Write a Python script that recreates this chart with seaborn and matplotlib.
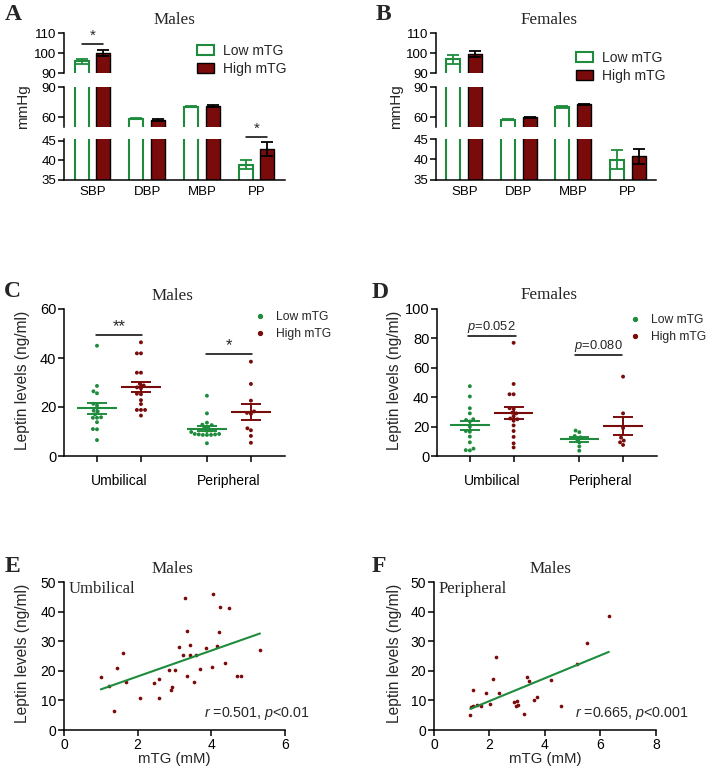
import numpy as np
import pandas as pd
import matplotlib
matplotlib.use('Agg')
import matplotlib.pyplot as plt
import seaborn as sns
from matplotlib.patches import Patch
from matplotlib.lines import Line2D

# ---------------- data ----------------
bp_categories = ['SBP', 'DBP', 'MBP', 'PP']
groups = ['Low mTG', 'High mTG']

males_low_bp = [95.8, 58.3, 70.4, 38.9]
males_low_sem = [1.2, 0.7, 0.7, 1.2]
males_high_bp = [100.0, 57.2, 71.2, 42.9]
males_high_sem = [1.5, 0.8, 0.8, 1.8]

females_low_bp = [96.8, 57.5, 70.4, 39.9]
females_low_sem = [2.1, 0.9, 0.9, 2.3]
females_high_bp = [99.6, 59.6, 72.8, 40.8]
females_high_sem = [1.4, 0.5, 0.5, 1.8]

sites = ['Umbilical', 'Peripheral']

m_umb_low = [45.0, 28.6, 26.4, 25.6, 21.3, 20.6, 18.5, 18.2, 17.0, 15.8, 15.6, 15.6, 13.8, 11.0, 10.9, 6.5]
m_umb_high = [46.4, 41.9, 41.9, 34.0, 34.0, 29.4, 28.8, 28.0, 27.6, 25.4, 25.2, 22.8, 21.2, 18.8, 18.8, 18.8, 16.5]
m_per_low = [24.6, 17.4, 13.6, 12.8, 12.6, 11.8, 11.4, 10.4, 10.2, 9.8, 9.0, 9.0, 8.8, 8.8, 8.6, 8.6, 8.6, 5.2]
m_per_high = [38.5, 29.4, 22.6, 18.2, 17.6, 17.2, 11.3, 10.5, 8.2, 5.4]

f_umb_low = [47.5, 40.5, 32.5, 29.0, 25.0, 24.5, 23.5, 20.0, 17.0, 16.5, 13.2, 9.3, 5.0, 4.0, 3.8]
f_umb_high = [77.0, 49.0, 42.0, 42.0, 32.5, 32.0, 29.5, 29.0, 27.0, 25.5, 25.0, 24.0, 20.8, 17.0, 13.0, 8.6, 5.8]
f_per_low = [17.3, 16.2, 13.6, 12.7, 11.4, 9.2, 6.5, 3.6]
f_per_high = [54.0, 29.0, 19.0, 12.5, 10.5, 9.3, 7.5]

e_mtg = [1.00, 1.23, 1.35, 1.45, 1.61, 1.68, 2.07, 2.44, 2.57, 2.57, 2.85, 2.92, 2.91, 3.01, 3.12,
         3.22, 3.29, 3.33, 3.33, 3.42, 3.42, 3.52, 3.58, 3.68, 3.86, 4.02, 4.05, 4.15, 4.22, 4.24,
         4.38, 4.49, 4.71, 4.81, 5.32]
e_leptin = [17.8, 14.9, 6.3, 20.9, 26.1, 16.2, 10.7, 16.0, 17.1, 10.7, 20.2, 14.6, 13.4, 20.2, 28.2,
            25.2, 44.5, 33.6, 18.4, 28.6, 25.3, 16.2, 25.3, 20.6, 27.7, 21.4, 45.8, 28.4, 33.2, 41.4,
            22.5, 41.2, 18.2, 18.2, 27.1]

f_mtg = [1.31, 1.33, 1.42, 1.41, 1.56, 1.68, 1.87, 2.02, 2.11, 2.25, 2.35, 2.87, 2.96, 3.00, 3.02,
         3.25, 3.35, 3.44, 3.60, 3.70, 4.22, 4.56, 5.15, 5.51, 6.30]
f_leptin = [5.2, 7.9, 8.2, 13.6, 8.5, 8.0, 12.6, 8.7, 17.1, 24.6, 12.4, 9.3, 8.0, 9.7, 8.5,
            5.3, 17.8, 16.7, 10.0, 11.0, 16.9, 8.2, 22.4, 29.3, 38.4]

# ---------------- style ----------------
GREEN = '#1e8c3c'
RED = '#7a0b0b'
sns.set_theme(style='ticks')
plt.rcParams['font.family'] = ['Liberation Sans', 'DejaVu Sans']
plt.rcParams['mathtext.fontset'] = 'custom'
plt.rcParams['mathtext.it'] = 'Liberation Sans:italic'
plt.rcParams['mathtext.rm'] = 'Liberation Sans'
plt.rcParams['axes.linewidth'] = 1.1
plt.rcParams['xtick.major.width'] = 1.1
plt.rcParams['ytick.major.width'] = 1.1
plt.rcParams['xtick.color'] = 'black'
plt.rcParams['ytick.color'] = 'black'
plt.rcParams['axes.edgecolor'] = 'black'
SERIF = ['Liberation Serif', 'DejaVu Serif']

W, H = 708, 770
fig = plt.figure(figsize=(W / 100, H / 100), dpi=100)


def ax_px(left, top, right, bottom):
    return fig.add_axes([left / W, 1 - bottom / H, (right - left) / W, (bottom - top) / H])


def ftext(x, y, s, **kw):
    kw.setdefault('ha', 'center')
    kw.setdefault('va', 'center')
    return fig.text(x / W, 1 - y / H, s, **kw)


# ---------------- bar panels (A, B) ----------------
def bar_panel(left, right, low, low_sem, high, high_sem, bottom_top, sig):
    df = pd.DataFrame({'measure': bp_categories * 2,
                       'group': [groups[0]] * 4 + [groups[1]] * 4,
                       'value': low + high})
    segs = [(33, 73, (90, 110), [90, 100, 110]),
            (87, 127, (50, 90), [60, 90]),
            (139, 180, (35, bottom_top), [35, 40, 45])]
    axes = []
    for k, (top, bot, ylim, ticks) in enumerate(segs):
        ax = ax_px(left, top, right, bot)
        sns.barplot(data=df, x='measure', y='value', hue='group', hue_order=groups,
                    palette={groups[0]: 'white', groups[1]: RED}, gap=0.36, width=0.8,
                    errorbar=None, legend=False, saturation=1, ax=ax)
        c_low, c_high = ax.containers[0], ax.containers[1]
        for p in c_low:
            p.set_facecolor('white'); p.set_edgecolor(GREEN); p.set_linewidth(1.5)
        for p in c_high:
            p.set_facecolor(RED); p.set_edgecolor('black'); p.set_linewidth(1.0)
        xl = [p.get_x() + p.get_width() / 2 for p in c_low]
        xh = [p.get_x() + p.get_width() / 2 for p in c_high]
        ax.errorbar(xl, low, yerr=low_sem, fmt='none', ecolor=GREEN, capsize=4,
                    elinewidth=1.3, capthick=1.3, zorder=5)
        ax.errorbar(xh, high, yerr=high_sem, fmt='none', ecolor='black', capsize=4,
                    elinewidth=1.3, capthick=1.3, zorder=5)
        ax.set_ylim(*ylim)
        ax.set_xlim(-0.52, 3.52)
        ax.set_yticks(ticks)
        ax.tick_params(axis='y', labelsize=9.5, length=4, pad=1.5)
        ax.set_xlabel(''); ax.set_ylabel('')
        sns.despine(ax=ax)
        if k < 2:
            ax.spines['bottom'].set_visible(False)
            ax.set_xticks([])
        else:
            ax.tick_params(axis='x', labelsize=9.5, length=0, pad=4)
        axes.append((ax, xl, xh))
    if sig:
        ax, xl, xh = axes[0]
        ax.plot([xl[0], xh[0]], [104.5, 104.5], color='black', lw=1.1, clip_on=False)
        ax.text((xl[0] + xh[0]) / 2, 105.2, '*', ha='center', va='bottom', fontsize=11)
        ax, xl, xh = axes[2]
        ax.plot([xl[3], xh[3]], [46.1, 46.1], color='black', lw=1.1, clip_on=False)
        ax.text((xl[3] + xh[3]) / 2, 46.3, '*', ha='center', va='bottom', fontsize=11,
                clip_on=False)
    return axes


bar_panel(64, 285, males_low_bp, males_low_sem, males_high_bp, males_high_sem, 45.5, True)
bar_panel(436, 656, females_low_bp, females_low_sem, females_high_bp, females_high_sem, 45, False)

bar_handles = [Patch(facecolor='white', edgecolor=GREEN, linewidth=1.5),
               Patch(facecolor=RED, edgecolor='black', linewidth=1.0)]
for lx, ly in [(197, 44), (576, 51)]:
    fig.legend(bar_handles, groups, loc='upper left', bbox_to_anchor=(lx / W, 1 - ly / H),
               frameon=False, fontsize=10, borderpad=0, handlelength=1.25, handleheight=0.75,
               handletextpad=0.65, labelspacing=0.3, borderaxespad=0)


# ---------------- dot panels (C, D) ----------------
def dot_panel(left, right, data, ylim, yticks, sig, legend_pos):
    ax = ax_px(left, 309, right, 456)
    df = pd.DataFrame(data)
    sns.swarmplot(data=df, x='site', y='leptin', hue='group', order=sites, hue_order=groups,
                  dodge=True, palette={groups[0]: GREEN, groups[1]: RED}, size=2.8,
                  legend=False, ax=ax)
    stats = df.groupby(['site', 'group'])['leptin'].agg(['mean', 'sem'])
    for i, site in enumerate(sites):
        for j, grp in enumerate(groups):
            x = i + (-0.2 if j == 0 else 0.2)
            c = GREEN if j == 0 else RED
            m, s = stats.loc[(site, grp), 'mean'], stats.loc[(site, grp), 'sem']
            ax.hlines(m, x - 0.18, x + 0.18, color=c, lw=1.5, zorder=4)
            ax.errorbar(x, m, yerr=s, fmt='none', ecolor=c, capsize=7, elinewidth=1.4,
                        capthick=1.4, zorder=4)
    ax.set_xlim(-0.5, 1.51)
    ax.set_ylim(*ylim)
    ax.set_yticks(yticks)
    ax.tick_params(axis='y', labelsize=10.5, length=4, pad=1.5)
    ax.set_xticks([-0.2, 0.2, 0.8, 1.2], labels=['', '', '', ''])
    ax.set_xticks([0, 1], labels=sites, minor=True)
    ax.tick_params(axis='x', which='major', length=4)
    ax.tick_params(axis='x', which='minor', length=0, labelsize=10, pad=13)
    ax.set_xlabel(''); ax.set_ylabel('')
    sns.despine(ax=ax)
    for x0, x1, y, txt, ty, fs in sig:
        ax.plot([x0, x1], [y, y], color='black', lw=1.1)
        ax.text((x0 + x1) / 2, ty, txt, ha='center', va='bottom', fontsize=fs)
    handles = [Line2D([], [], marker='o', ls='', color=GREEN, markersize=2.8),
               Line2D([], [], marker='o', ls='', color=RED, markersize=2.8)]
    fig.legend(handles, groups, loc='upper left',
               bbox_to_anchor=(legend_pos[0] / W, 1 - legend_pos[1] / H), frameon=False,
               fontsize=8.7, borderpad=0, handlelength=1.0, handletextpad=0.8,
               labelspacing=0.45, borderaxespad=0)
    return ax


c_data = {'site': [sites[0]] * (len(m_umb_low) + len(m_umb_high)) + [sites[1]] * (len(m_per_low) + len(m_per_high)),
          'group': [groups[0]] * len(m_umb_low) + [groups[1]] * len(m_umb_high)
                   + [groups[0]] * len(m_per_low) + [groups[1]] * len(m_per_high),
          'leptin': m_umb_low + m_umb_high + m_per_low + m_per_high}
d_data = {'site': [sites[0]] * (len(f_umb_low) + len(f_umb_high)) + [sites[1]] * (len(f_per_low) + len(f_per_high)),
          'group': [groups[0]] * len(f_umb_low) + [groups[1]] * len(f_umb_high)
                   + [groups[0]] * len(f_per_low) + [groups[1]] * len(f_per_high),
          'leptin': f_umb_low + f_umb_high + f_per_low + f_per_high}

dot_panel(64, 285, c_data, (0, 60), [0, 20, 40, 60],
          [(-0.21, 0.21, 49.2, '**', 49.6, 12), (0.79, 1.21, 41.7, '*', 42.1, 12)], (254, 311))
dot_panel(437, 657, d_data, (0, 100), [0, 20, 40, 60, 80, 100],
          [(-0.22, 0.22, 81.6, '$\\it{p}$=0.052', 82.3, 9.3), (0.76, 1.19, 68.9, '$\\it{p}$=0.080', 69.6, 9.3)],
          (629, 314))


# ---------------- correlation panels (E, F) ----------------
def corr_panel(left, right, x, y, xlim, xticks, site_label, stat_text, stat_x):
    ax = ax_px(left, 582, right, 730)
    df = pd.DataFrame({'mTG': x, 'leptin': y})
    sns.scatterplot(data=df, x='mTG', y='leptin', color=RED, s=7, linewidth=0, ax=ax)
    sns.regplot(data=df, x='mTG', y='leptin', scatter=False, ci=None, truncate=True,
                line_kws={'color': GREEN, 'lw': 1.5}, ax=ax)
    ax.set_xlim(*xlim)
    ax.set_ylim(0, 50)
    ax.set_xticks(xticks)
    ax.set_yticks([0, 10, 20, 30, 40, 50])
    ax.tick_params(labelsize=10, length=4, pad=1.5)
    ax.set_xlabel('mTG (mM)', fontsize=10.8, labelpad=0)
    ax.set_ylabel('')
    sns.despine(ax=ax)
    ax.text(0.02, 0.95, site_label, transform=ax.transAxes, ha='left', va='center',
            fontsize=12, family=SERIF)
    ftext(stat_x, 713, stat_text, ha='left', fontsize=10.3)
    return ax


corr_panel(64, 285, e_mtg, e_leptin, (0, 6), [0, 2, 4, 6], 'Umbilical',
           '$\\it{r}$ =0.501, $\\it{p}$<0.01', 204)
corr_panel(434, 656, f_mtg, f_leptin, (0, 8), [0, 2, 4, 6, 8], 'Peripheral',
           '$\\it{r}$ =0.665, $\\it{p}$<0.001', 575)

# ---------------- titles, labels, panel letters ----------------
for x, y, s in [(174, 20, 'Males'), (549, 20, 'Females'), (172, 296, 'Males'),
                (549, 295, 'Females'), (172, 569, 'Males'), (551, 569, 'Males')]:
    ftext(x, y, s, fontsize=12.3, family=SERIF)

for x, y, s in [(13, 15, 'A'), (383, 15, 'B'), (12, 291, 'C'), (380, 292, 'D'),
                (12, 567, 'E'), (379, 567, 'F')]:
    ftext(x, y, s, fontsize=17, fontweight='bold', family=SERIF)

ftext(23, 107, 'mmHg', rotation=90, fontsize=11)
ftext(396, 107, 'mmHg', rotation=90, fontsize=11)
ftext(23, 380, 'Leptin levels (ng/ml)', rotation=90, fontsize=11.2)
ftext(394, 380, 'Leptin levels (ng/ml)', rotation=90, fontsize=11.2)
ftext(23, 653, 'Leptin levels (ng/ml)', rotation=90, fontsize=11.2)
ftext(394, 653, 'Leptin levels (ng/ml)', rotation=90, fontsize=11.2)

fig.savefig('out.png', dpi=100)
